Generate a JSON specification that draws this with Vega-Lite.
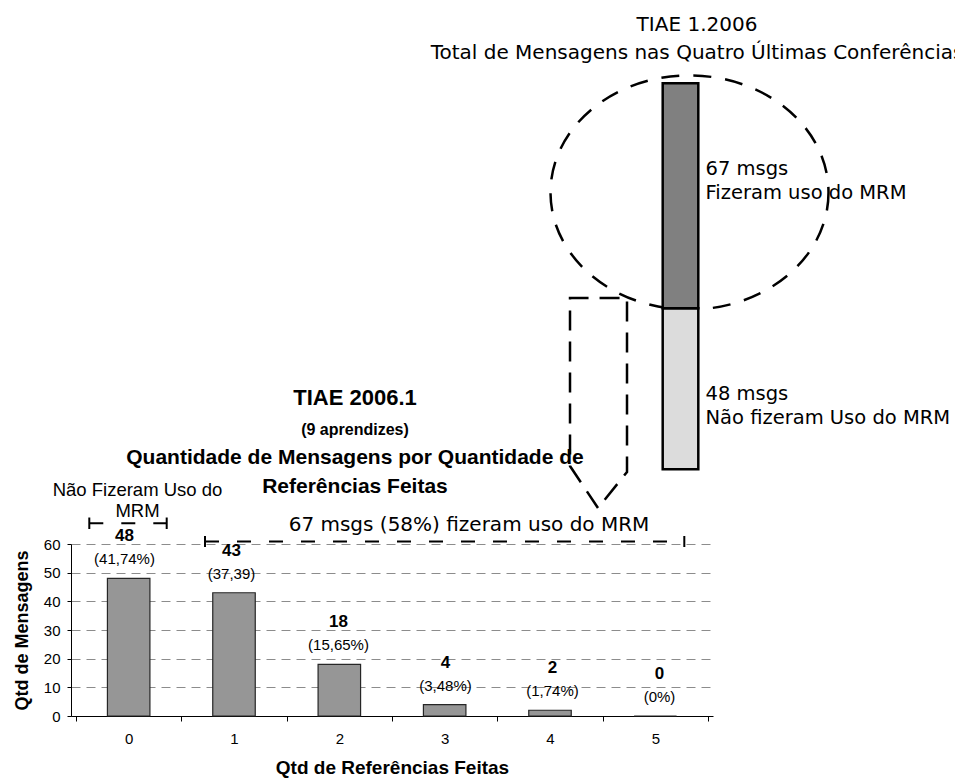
{
  "$schema": "https://vega.github.io/schema/vega-lite/v6.json",
  "width": 642,
  "height": 172,
  "autosize": {"type": "none"},
  "padding": {"left": 71, "top": 544, "right": 242, "bottom": 65},
  "background": "white",
  "config": {"view": {"stroke": null}, "font": "Liberation Sans"},
  "datasets": {
    "barras": [
      {"refs": 0, "msgs": 48, "pct": "(41,74%)"},
      {"refs": 1, "msgs": 43, "pct": "(37,39)"},
      {"refs": 2, "msgs": 18, "pct": "(15,65%)"},
      {"refs": 3, "msgs": 4, "pct": "(3,48%)"},
      {"refs": 4, "msgs": 2, "pct": "(1,74%)"},
      {"refs": 5, "msgs": 0, "pct": "(0%)"}
    ],
    "total": [
      {"serie": "TIAE 1.2006", "grupo": "Não fizeram uso do MRM", "msgs": 48, "rotulo": "48 msgs\nNão fizeram Uso do MRM"},
      {"serie": "TIAE 1.2006", "grupo": "Fizeram uso do MRM", "msgs": 67, "rotulo": "67 msgs\nFizeram uso do MRM"}
    ]
  },
  "layer": [
    {
      "data": {"name": "barras"},
      "mark": {"type": "bar", "width": 42.5, "fill": "#969696", "stroke": "#262626", "strokeWidth": 1.2},
      "encoding": {
        "x": {"field": "refs", "type": "quantitative",
          "scale": {"domain": [-0.5, 5.5], "nice": false, "zero": false},
          "axis": {
            "values": [-0.5, 0, 0.5, 1, 1.5, 2, 2.5, 3, 3.5, 4, 4.5, 5, 5.5],
            "labelExpr": "datum.value % 1 === 0 ? '' + datum.value : ''",
            "tickOpacity": {"condition": {"test": "datum.value % 1 !== 0", "value": 1}, "value": 0},
            "grid": false,
            "title": "Qtd de Referências Feitas",
            "titleFont": "Liberation Sans", "titleFontSize": 19, "titleFontWeight": "bold", "titleColor": "black",
            "titlePadding": 12,
            "labelFont": "Liberation Sans", "labelFontSize": 15, "labelColor": "black", "labelPadding": 10,
            "labelFlush": false, "labelOverlap": false,
            "tickSize": 5, "tickColor": "black", "domainColor": "black"
          }},
        "y": {"field": "msgs", "type": "quantitative",
          "scale": {"domain": [0, 60], "nice": false},
          "axis": {
            "values": [0, 10, 20, 30, 40, 50, 60],
            "title": "Qtd de Mensagens",
            "titleFont": "Liberation Sans", "titleFontSize": 18, "titleFontWeight": "bold", "titleColor": "black",
            "titlePadding": 12,
            "labelFont": "Liberation Sans", "labelFontSize": 15, "labelColor": "black", "labelPadding": 7,
            "labelFlush": false, "labelOverlap": false,
            "tickSize": 4, "tickColor": "black", "domainColor": "black",
            "grid": true, "gridDash": [9, 6], "gridColor": "#8c8c8c", "gridWidth": 1
          }}
      }
    },
    {
      "data": {"name": "barras"},
      "mark": {"type": "text", "font": "Liberation Sans", "fontSize": 17, "fontWeight": "bold", "baseline": "middle", "align": "center", "dy": -42, "color": "black"},
      "encoding": {
        "x": {"field": "refs", "type": "quantitative", "scale": {"domain": [-0.5, 5.5], "nice": false, "zero": false}, "axis": null},
        "y": {"field": "msgs", "type": "quantitative", "scale": {"domain": [0, 60], "nice": false}, "axis": null},
        "text": {"field": "msgs", "type": "quantitative"}
      }
    },
    {
      "data": {"name": "barras"},
      "mark": {"type": "text", "font": "Liberation Sans", "fontSize": 15, "baseline": "middle", "align": "center", "dy": -19, "color": "black"},
      "encoding": {
        "x": {"field": "refs", "type": "quantitative", "scale": {"domain": [-0.5, 5.5], "nice": false, "zero": false}, "axis": null},
        "y": {"field": "msgs", "type": "quantitative", "scale": {"domain": [0, 60], "nice": false}, "axis": null},
        "text": {"field": "pct", "type": "nominal"}
      }
    },
    {
      "data": {"values": [
        {"texto": "TIAE 2006.1", "x": 2.154, "y": 110.93}
      ]},
      "mark": {"type": "text", "font": "Liberation Sans", "fontSize": 22, "fontWeight": "bold", "baseline": "middle", "align": "center", "color": "black"},
      "encoding": {
        "x": {"field": "x", "type": "quantitative", "scale": {"domain": [-0.5, 5.5], "nice": false, "zero": false}, "axis": null},
        "y": {"field": "y", "type": "quantitative", "scale": {"domain": [0, 60], "nice": false}, "axis": null},
        "text": {"field": "texto"}
      }
    },
    {
      "data": {"values": [
        {"texto": "(9 aprendizes)", "x": 2.154, "y": 99.77}
      ]},
      "mark": {"type": "text", "font": "Liberation Sans", "fontSize": 16, "fontWeight": "bold", "baseline": "middle", "align": "center", "color": "black"},
      "encoding": {
        "x": {"field": "x", "type": "quantitative", "scale": {"domain": [-0.5, 5.5], "nice": false, "zero": false}, "axis": null},
        "y": {"field": "y", "type": "quantitative", "scale": {"domain": [0, 60], "nice": false}, "axis": null},
        "text": {"field": "texto"}
      }
    },
    {
      "data": {"values": [
        {"texto": "Quantidade de Mensagens por Quantidade de", "x": 2.154, "y": 90.0},
        {"texto": "Referências Feitas", "x": 2.154, "y": 79.88}
      ]},
      "mark": {"type": "text", "font": "Liberation Sans", "fontSize": 21, "fontWeight": "bold", "baseline": "middle", "align": "center", "color": "black"},
      "encoding": {
        "x": {"field": "x", "type": "quantitative", "scale": {"domain": [-0.5, 5.5], "nice": false, "zero": false}, "axis": null},
        "y": {"field": "y", "type": "quantitative", "scale": {"domain": [0, 60], "nice": false}, "axis": null},
        "text": {"field": "texto"}
      }
    },
    {
      "data": {"values": [
        {"texto": "Não Fizeram Uso do", "x": 0.1215, "y": 78.84},
        {"texto": "MRM", "x": 0.1215, "y": 71.51}
      ]},
      "mark": {"type": "text", "font": "Liberation Sans", "fontSize": 18.5, "baseline": "middle", "align": "center", "color": "black"},
      "encoding": {
        "x": {"field": "x", "type": "quantitative", "scale": {"domain": [-0.5, 5.5], "nice": false, "zero": false}, "axis": null},
        "y": {"field": "y", "type": "quantitative", "scale": {"domain": [0, 60], "nice": false}, "axis": null},
        "text": {"field": "texto"}
      }
    },
    {
      "data": {"values": [
        {"x": -0.329, "x2": 0.3944, "y": 67.22},
        {"x": 0.7523, "x2": 5.2318, "y": 60.87}
      ]},
      "mark": {"type": "rule", "color": "black", "strokeWidth": 2, "strokeDash": [14, 18]},
      "encoding": {
        "x": {"field": "x", "type": "quantitative", "scale": {"domain": [-0.5, 5.5], "nice": false, "zero": false}, "axis": null},
        "x2": {"field": "x2"},
        "y": {"field": "y", "type": "quantitative", "scale": {"domain": [0, 60], "nice": false}, "axis": null}
      }
    },
    {
      "data": {"values": [
        {"x": -0.329, "y": 65.23, "y2": 69.24},
        {"x": 0.3944, "y": 65.23, "y2": 69.24},
        {"x": 0.7523, "y": 58.95, "y2": 62.79},
        {"x": 5.2318, "y": 58.95, "y2": 62.79}
      ]},
      "mark": {"type": "rule", "color": "black", "strokeWidth": 2},
      "encoding": {
        "x": {"field": "x", "type": "quantitative", "scale": {"domain": [-0.5, 5.5], "nice": false, "zero": false}, "axis": null},
        "y": {"field": "y", "type": "quantitative", "scale": {"domain": [0, 60], "nice": false}, "axis": null},
        "y2": {"field": "y2"}
      }
    },
    {
      "data": {"values": [
        {"texto": "67 msgs (58%) fizeram uso do MRM", "x": 3.2196, "y": 66.63}
      ]},
      "mark": {"type": "text", "font": "DejaVu Sans", "fontSize": 20, "baseline": "middle", "align": "center", "color": "black"},
      "encoding": {
        "x": {"field": "x", "type": "quantitative", "scale": {"domain": [-0.5, 5.5], "nice": false, "zero": false}, "axis": null},
        "y": {"field": "y", "type": "quantitative", "scale": {"domain": [0, 60], "nice": false}, "axis": null},
        "text": {"field": "texto"}
      }
    },
    {
      "data": {"values": [
        {"texto": "TIAE 1.2006", "x": 5.3505, "y": 241.05},
        {"texto": "Total de Mensagens nas Quatro Últimas Conferências", "x": 5.3505, "y": 231.17}
      ]},
      "mark": {"type": "text", "font": "DejaVu Sans", "fontSize": 20, "baseline": "middle", "align": "center", "color": "black"},
      "encoding": {
        "x": {"field": "x", "type": "quantitative", "scale": {"domain": [-0.5, 5.5], "nice": false, "zero": false}, "axis": null},
        "y": {"field": "y", "type": "quantitative", "scale": {"domain": [0, 60], "nice": false}, "axis": null},
        "text": {"field": "texto"}
      }
    },
    {
      "data": {"values": [
        {"x": 5.2804, "y": 182.62}
      ]},
      "mark": {"type": "point", "filled": false, "stroke": "black", "strokeWidth": 2.5, "strokeDash": [18, 14], "opacity": 1,
        "shape": "M 1 0 C 1 0.465 0.552 0.842 0 0.842 C -0.552 0.842 -1 0.465 -1 0 C -1 -0.465 -0.552 -0.842 0 -0.842 C 0.552 -0.842 1 -0.465 1 0 Z",
        "size": 77284},
      "encoding": {
        "x": {"field": "x", "type": "quantitative", "scale": {"domain": [-0.5, 5.5], "nice": false, "zero": false}, "axis": null},
        "y": {"field": "y", "type": "quantitative", "scale": {"domain": [0, 60], "nice": false}, "axis": null}
      }
    },
    {
      "data": {"values": [
        {"ordem": 1, "x": 4.4252, "y": 72.56},
        {"ordem": 2, "x": 4.1636, "y": 87.21},
        {"ordem": 3, "x": 4.1636, "y": 145.81},
        {"ordem": 4, "x": 4.6963, "y": 145.81},
        {"ordem": 5, "x": 4.6963, "y": 85.12},
        {"ordem": 6, "x": 4.4252, "y": 72.56}
      ]},
      "mark": {"type": "line", "color": "black", "strokeWidth": 2.5, "strokeDash": [20, 11]},
      "encoding": {
        "x": {"field": "x", "type": "quantitative", "scale": {"domain": [-0.5, 5.5], "nice": false, "zero": false}, "axis": null},
        "y": {"field": "y", "type": "quantitative", "scale": {"domain": [0, 60], "nice": false}, "axis": null},
        "order": {"field": "ordem", "type": "quantitative"}
      }
    },
    {
      "data": {"name": "total"},
      "mark": {"type": "bar", "stroke": "black", "strokeWidth": 2.5},
      "encoding": {
        "x": {"field": "serie", "type": "nominal", "scale": {"range": [591.7, 627.3], "paddingInner": 0, "paddingOuter": 0}, "axis": null},
        "y": {"field": "msgs", "type": "quantitative", "stack": "zero", "scale": {"domain": [0, 115], "range": [-74.7, -460.7], "nice": false}, "axis": null},
        "order": {"field": "msgs", "type": "quantitative", "sort": "ascending"},
        "color": {"field": "grupo", "type": "nominal", "scale": {"domain": ["Não fizeram uso do MRM", "Fizeram uso do MRM"], "range": ["#dcdcdc", "#808080"]}, "legend": null}
      }
    },
    {
      "data": {"name": "total"},
      "mark": {"type": "text", "font": "DejaVu Sans", "fontSize": 19.5, "align": "left", "baseline": "middle", "dx": 25, "dy": 86, "lineBreak": "\n", "lineHeight": 24, "color": "black"},
      "encoding": {
        "x": {"field": "serie", "type": "nominal", "scale": {"range": [591.7, 627.3], "paddingInner": 0, "paddingOuter": 0}, "axis": null},
        "y": {"field": "msgs", "type": "quantitative", "stack": "zero", "scale": {"domain": [0, 115], "range": [-74.7, -460.7], "nice": false}, "axis": null},
        "order": {"field": "msgs", "type": "quantitative", "sort": "ascending"},
        "detail": {"field": "grupo", "type": "nominal"},
        "text": {"field": "rotulo", "type": "nominal"}
      }
    }
  ],
  "resolve": {"scale": {"x": "independent", "y": "independent"}}
}
